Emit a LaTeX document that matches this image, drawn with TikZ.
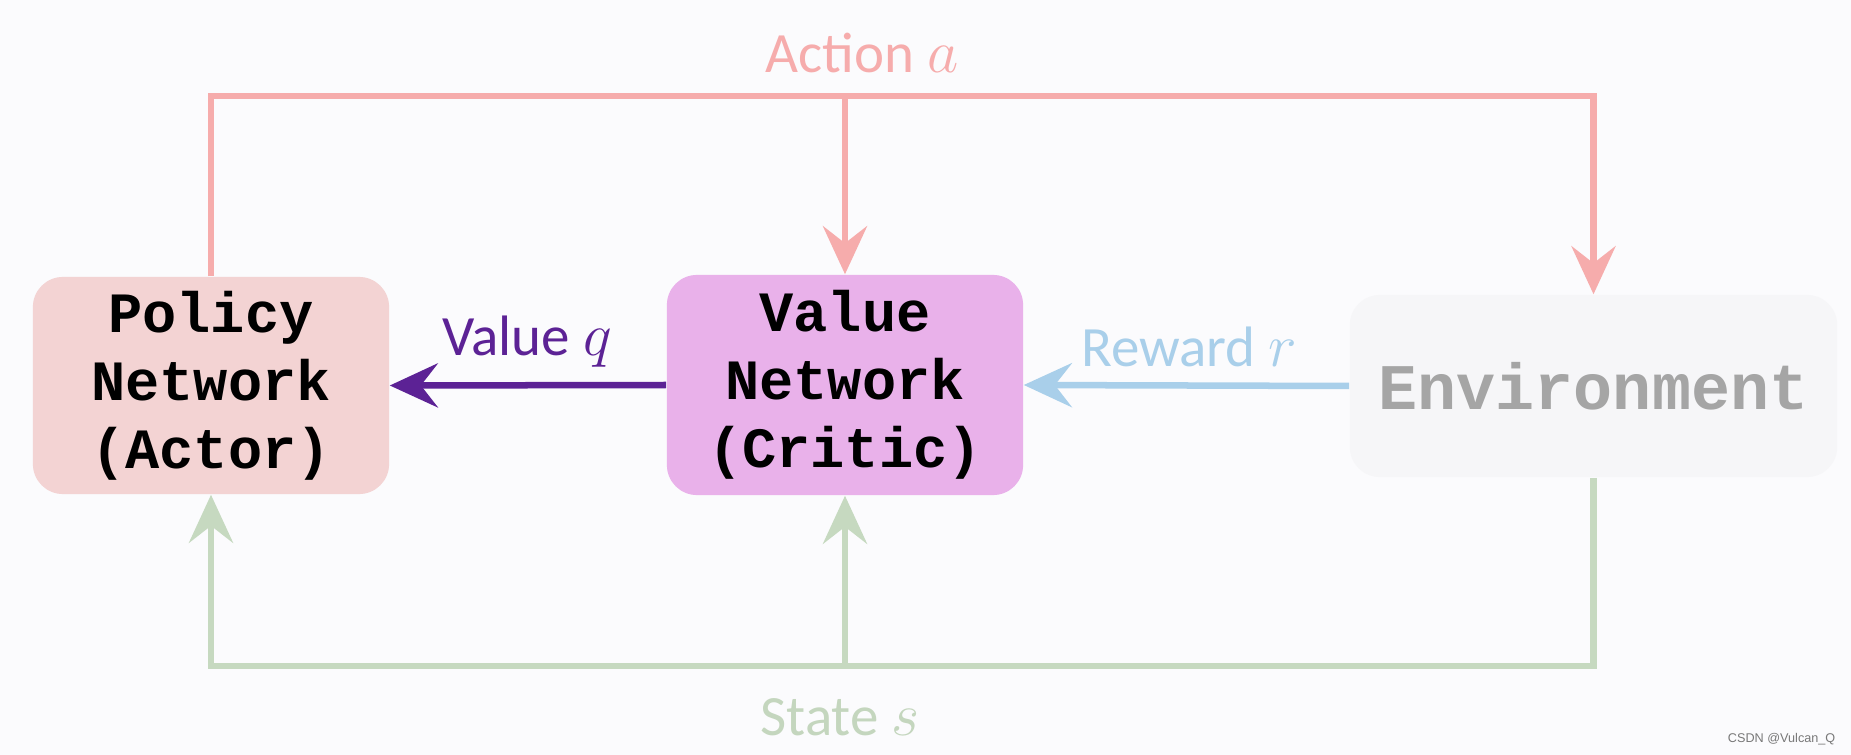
\documentclass[tikz,border=0pt]{standalone}
\usepackage{fontspec}
\setmainfont{Carlito}
\newfontfamily\boxfont{Liberation Mono}
\newfontfamily\wmfont{Liberation Sans}
\usetikzlibrary{arrows.meta}
\definecolor{bgc}{RGB}{251,251,253}
\definecolor{actc}{RGB}{246,172,172}
\definecolor{polc}{RGB}{243,211,211}
\definecolor{valc}{RGB}{233,177,234}
\definecolor{envc}{RGB}{246,246,248}
\definecolor{envt}{RGB}{165,165,165}
\definecolor{purc}{RGB}{92,34,149}
\definecolor{bluc}{RGB}{169,207,234}
\definecolor{grnc}{RGB}{198,217,192}
\definecolor{grnt}{RGB}{196,214,190}
\definecolor{wmc}{RGB}{120,120,120}
\tikzset{
  netbox/.style={rounded corners=0.3cm, align=center, inner sep=0pt,
    font=\boxfont\bfseries\fontsize{16.2}{19.3}\selectfont},
  tip/.style={-{Stealth[length=0.48cm,width=0.44cm,inset=0.17cm]}},
  conn/.style={line width=0.065cm},
  lbl/.style={font=\fontsize{16.2}{19}\selectfont, inner sep=0pt}
}
\begin{document}
\begin{tikzpicture}[x=0.01cm,y=-0.01cm]
\path[use as bounding box, fill=bgc] (0,0) rectangle (1851,755);
\node[netbox, fill=polc, minimum width=3.56cm, minimum height=2.17cm] (pol) at (211,385.5) {Policy\\Network\\(Actor)};
\node[netbox, fill=valc, minimum width=3.56cm, minimum height=2.20cm] (val) at (845,385) {Value\\Network\\(Critic)};
\node[netbox, fill=envc, text=envt, minimum width=4.87cm, minimum height=1.82cm,
  font=\boxfont\bfseries\fontsize{18.5}{22}\selectfont] (env) at (1593.5,386) {Environment};
\coordinate (ajoint) at (845,96);
\coordinate (sjoint) at (845,666);
% action
\draw[conn, actc, tip] (pol.north) |- (ajoint) -| (env.north);
\draw[conn, actc, tip] (ajoint) -- (val.north);
% state
\draw[conn, grnc, tip] (env.south) |- (sjoint) -| (pol.south);
\draw[conn, grnc, tip] (sjoint) -- (val.south);
% value / reward
\draw[conn, purc, tip] (val.west) -- (pol.east);
\draw[conn, bluc, tip] (env.west) -- (val.east);
% labels
\node[lbl, text=actc] (lact) at (862,53) {Action $a$};
\node[lbl, text=grnt] (lsta) at (840,717) {State $s$};
\node[lbl, text=purc] (lval) at (527,342) {Value $q$};
\node[lbl, text=bluc] (lrew) at (1189,347) {Reward $r$};
\node[font=\wmfont\fontsize{3.6}{4}\selectfont, text=wmc, inner sep=0pt, anchor=east] (wm) at (1836,739) {CSDN @Vulcan\_Q};
\end{tikzpicture}
\end{document}
